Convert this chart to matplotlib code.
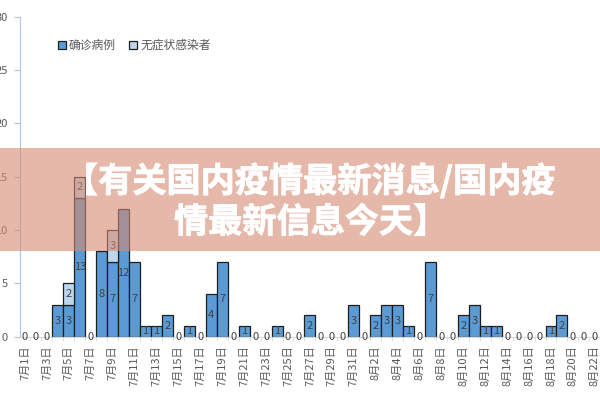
import matplotlib.pyplot as plt
import matplotlib.patheffects as pe
from matplotlib.patches import Rectangle, Patch

plt.rcParams['font.family'] = ['Noto Sans CJK SC', 'DejaVu Sans']

# dates shown on the x axis (7/1 .. 8/22)
dates = [f"7月{d}日" for d in range(1, 32)] + [f"8月{d}日" for d in range(1, 23)]

# confirmed cases per day
confirmed = [0, 0, 0, 3, 3, 13, 0, 8, 7, 12, 7, 1, 1, 2, 0, 1, 0, 4, 7, 0,
             1, 0, 0, 1, 0, 0, 2, 0, 0, 0, 3,
             0, 2, 3, 3, 1, 0, 7, 0, 0, 2, 3, 1, 1, 0, 0, 0, 0, 1, 2, 0, 0, 0]
# asymptomatic infections per day
asymptomatic = [0, 0, 0, 0, 2, 2, 0, 0, 3, 0, 0, 0, 0, 0, 0, 0, 0, 0, 0, 0,
                0, 0, 0, 0, 0, 0, 0, 0, 0, 0, 0,
                0, 0, 0, 0, 0, 0, 0, 0, 0, 0, 0, 0, 0, 0, 0, 0, 0, 0, 0, 0, 0, 0]
series_names = ['确诊病例', '无症状感染者']

blue = '#5B9BD5'
light = '#BDD7EE'
edge = '#1E1E1E'
grey = '#595959'

fig = plt.figure(figsize=(6, 4), dpi=100)
ax = fig.add_axes([0.0325, 0.158, 0.968, 0.8])

x = list(range(len(dates)))
b1 = ax.bar(x, confirmed, width=1.0, color=blue,
            edgecolor=[edge if v else 'none' for v in confirmed], linewidth=0.9)
b2 = ax.bar(x, asymptomatic, width=1.0, bottom=confirmed, color=light,
            edgecolor=[edge if v else 'none' for v in asymptomatic], linewidth=0.9)

ax.bar_label(b1, label_type='center', color='#404040', fontsize=8)
ax.bar_label(b2, labels=[str(v) if v else '' for v in asymptomatic],
             label_type='center', color='#404040', fontsize=8)

ax.set_xlim(-0.5, len(dates) - 0.5)
ax.set_ylim(0, 30)
ax.set_yticks(range(0, 31, 5))
ax.set_xticks(x[::2])
ax.set_xticklabels(dates[::2], rotation=90)
ax.set_xticks([i + 0.5 for i in x], minor=True)

ax.tick_params(axis='y', length=4, color='#BFBFBF', pad=4.5, labelsize=8, labelcolor=grey)
ax.tick_params(axis='x', which='major', length=0, pad=6, labelsize=8, labelcolor=grey)
ax.tick_params(axis='x', which='minor', length=3, color='#D9D9D9')

for s in ['top', 'right']:
    ax.spines[s].set_visible(False)
ax.spines['left'].set_color('#A9C8E8')
ax.spines['bottom'].set_color('#D9D9D9')

handles = [Patch(facecolor=blue, edgecolor=edge, linewidth=0.9),
           Patch(facecolor=light, edgecolor=edge, linewidth=0.9)]
ax.legend(handles, series_names, loc='center left', bbox_to_anchor=(0.066, 0.91), ncol=2,
          frameon=False, fontsize=8.5, labelcolor=grey, handlelength=0.65, handleheight=0.65,
          handletextpad=0.3, columnspacing=1.1, borderpad=0, borderaxespad=0)

# title banner laid over the chart
fig.add_artist(Rectangle((0, 0.3725), 1, 0.2575, transform=fig.transFigure,
                         facecolor=(213 / 255, 138 / 255, 113 / 255), alpha=0.6,
                         edgecolor='none', zorder=5))
thick = [pe.withStroke(linewidth=0.6, foreground='white')]
fig.text(555 / 600, 1 - 181 / 400, '【有关国内疫情最新消息/国内疫', color='white',
         fontsize=24.6, fontweight='bold', ha='right', va='center', zorder=6,
         path_effects=thick)
fig.text(174 / 600, 1 - 222 / 400, '情最新信息今天】', color='white',
         fontsize=24.6, fontweight='bold', ha='left', va='center', zorder=6,
         path_effects=thick)

fig.savefig('out.png', dpi=100)
